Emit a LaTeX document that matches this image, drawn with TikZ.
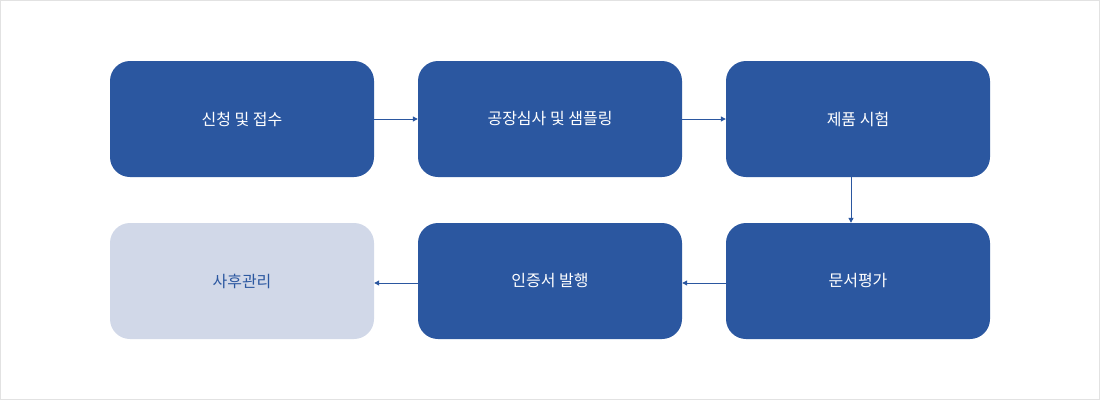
\documentclass[tikz,border=0pt]{standalone}
\usepackage{fontspec}
\newfontfamily\kr{Noto Sans CJK KR}
\usetikzlibrary{arrows.meta}
\definecolor{mainblue}{HTML}{2B57A0}
\definecolor{lightbox}{HTML}{D1D8E8}
\definecolor{frame}{HTML}{E2E2E2}
\newcommand{\lowtxt}[1]{\raisebox{-2pt}{#1}}
\tikzset{
  stepbox/.style={rectangle, rounded corners=20pt, minimum width=264pt, minimum height=116pt, fill=mainblue, text=white, font=\kr\fontsize{16pt}{19pt}\selectfont, inner sep=0pt},
  lastbox/.style={stepbox, fill=lightbox, text=mainblue},
  conn/.style={draw=mainblue, line width=1pt, -{Triangle[length=5pt,width=5pt]}}
}
\begin{document}
\begin{tikzpicture}[x=1pt,y=-1pt]
\useasboundingbox (0,0) rectangle (1100,400);
\draw[frame, line width=1pt] (0.5,0.5) rectangle (1099.5,399.5);
\node[stepbox] (a) at (242,119) {\lowtxt{신청 및 접수}};
\node[stepbox] (b) at (550,119) {\lowtxt{공장심사 및 샘플링}};
\node[stepbox] (c) at (858,119) {\lowtxt{제품 시험}};
\node[stepbox] (d) at (858,281) {\lowtxt{문서평가}};
\node[stepbox] (e) at (550,281) {\lowtxt{인증서 발행}};
\node[lastbox] (f) at (242,281) {\lowtxt{사후관리}};
\draw[conn] (a) -- (b);
\draw[conn] (b) -- (c);
\draw[conn] ([xshift=-7pt]c.south) -- ([xshift=-7pt]d.north);
\draw[conn] ([yshift=-2pt]d.west) -- ([yshift=-2pt]e.east);
\draw[conn] ([yshift=-2pt]e.west) -- ([yshift=-2pt]f.east);
\end{tikzpicture}
\end{document}
